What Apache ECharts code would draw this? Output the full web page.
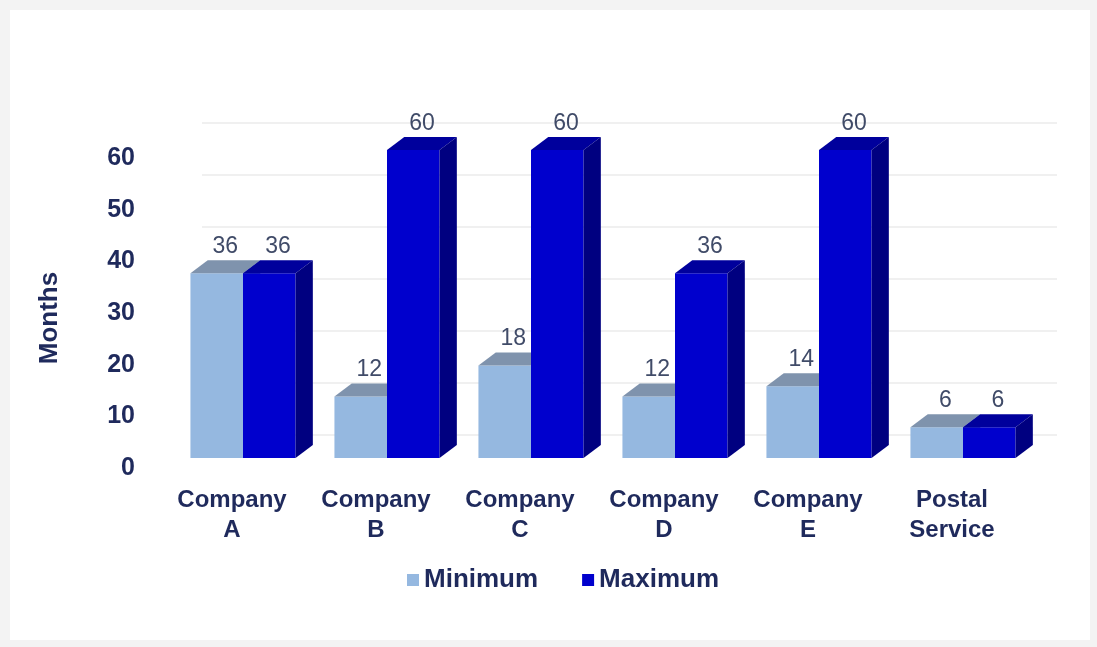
<!DOCTYPE html>
<html>
<head>
<meta charset="utf-8">
<script src="https://cdn.jsdelivr.net/npm/echarts@6/dist/echarts.min.js"></script>
<style>
  html, body { margin: 0; padding: 0; background: #f3f3f3; }
  #main { width: 1097px; height: 647px; }
</style>
</head>
<body>
<div id="main"></div>
<script>
// data
const categories = ['Company\nA', 'Company\nB', 'Company\nC', 'Company\nD', 'Company\nE', 'Postal\nService'];
const minimum = [36, 12, 18, 12, 14, 6];
const maximum = [36, 60, 60, 36, 60, 6];
const seriesNames = ['Minimum', 'Maximum'];
const yMin = 0, yMax = 60, yStep = 10;

const navy = '#1f2a5c';
const fontFam = '"Liberation Sans", Arial, sans-serif';
const faces = [
    { front: '#95b8e0', top: '#7f93ad', side: '#6f8cb5' },
    { front: '#0000cd', top: '#00009c', side: '#000080' }
];

// 3d-ish box: front, top and right side
function boxRenderer(side) {
    return function (params, api) {
        let idx = api.value(0), val = api.value(1);
        let top = api.coord([idx, val]);
        let base = api.coord([idx, 0]);
        let band = api.size([1, 0])[0];
        let w = band * 0.365;
        let x0 = side === 0 ? top[0] - w : top[0];
        let dx = band * 0.12, dy = -13;
        let c = faces[side];
        return {
            type: 'group',
            children: [
                { type: 'rect', shape: { x: x0, y: top[1], width: w, height: base[1] - top[1] }, style: { fill: c.front } },
                { type: 'polygon', shape: { points: [[x0, top[1]], [x0 + dx, top[1] + dy], [x0 + w + dx, top[1] + dy], [x0 + w, top[1]]] }, style: { fill: c.top } },
                { type: 'polygon', shape: { points: [[x0 + w, top[1]], [x0 + w + dx, top[1] + dy], [x0 + w + dx, base[1] + dy], [x0 + w, base[1]]] }, style: { fill: c.side } },
                {
                    type: 'text',
                    x: x0 + w / 2 + dx / 2,
                    y: top[1] + dy - 2,
                    style: { text: String(val), fill: '#404b68', font: '23px ' + fontFam, align: 'center', verticalAlign: 'bottom' }
                }
            ]
        };
    };
}

(function () {
    let myChart = echarts.init(document.getElementById('main'));
    let option = {
        animation: false,
        backgroundColor: '#f3f3f3',
        graphic: [
            { type: 'rect', left: 10, top: 10, shape: { width: 1080, height: 630 }, style: { fill: '#ffffff' }, z: -10 },
            {
                type: 'text', x: 50, y: 318, rotation: Math.PI / 2,
                style: { text: 'Months', fill: navy, font: 'bold 26px ' + fontFam, align: 'center', verticalAlign: 'middle' }
            }
        ],
        legend: {
            data: seriesNames,
            left: 402, top: 562,
            icon: 'rect', itemWidth: 12, itemHeight: 12, itemGap: 44,
            textStyle: { color: navy, fontSize: 26, fontWeight: 'bold', fontFamily: fontFam }
        },
        grid: [
            // bars (front plane)
            { left: 171, right: 62, top: 150, height: 308 },
            // back wall
            { left: 202, right: 40, top: 123, height: 312 },
            // axis labels
            { left: 160, right: 73, top: 158, height: 310 }
        ],
        xAxis: [
            { gridIndex: 0, type: 'category', data: categories, show: false },
            { gridIndex: 1, type: 'category', data: categories, show: false },
            {
                gridIndex: 2, type: 'category', data: categories,
                axisLine: { show: false }, axisTick: { show: false },
                axisLabel: { color: navy, fontSize: 24, fontWeight: 'bold', lineHeight: 30, margin: 17, fontFamily: fontFam }
            }
        ],
        yAxis: [
            { gridIndex: 0, type: 'value', min: yMin, max: yMax, interval: yStep, show: false },
            {
                gridIndex: 1, type: 'value', min: yMin, max: yMax, interval: yStep,
                axisLabel: { show: false }, axisLine: { show: false }, axisTick: { show: false },
                splitLine: { lineStyle: { color: '#f0f0f0', width: 2 } }
            },
            {
                gridIndex: 2, type: 'value', min: yMin, max: yMax, interval: yStep,
                axisLine: { show: false }, axisTick: { show: false }, splitLine: { show: false },
                axisLabel: { color: navy, fontSize: 25, fontWeight: 'bold', margin: 25, fontFamily: fontFam }
            }
        ],
        series: [
            {
                name: seriesNames[0], type: 'custom', xAxisIndex: 0, yAxisIndex: 0,
                itemStyle: { color: faces[0].front },
                renderItem: boxRenderer(0),
                encode: { x: 0, y: 1 },
                data: minimum.map((v, i) => [i, v])
            },
            {
                name: seriesNames[1], type: 'custom', xAxisIndex: 0, yAxisIndex: 0,
                itemStyle: { color: faces[1].front },
                renderItem: boxRenderer(1),
                encode: { x: 0, y: 1 },
                data: maximum.map((v, i) => [i, v])
            }
        ]
    };
    myChart.setOption(option);
    window.addEventListener('resize', function () {
        myChart.resize()
    })
})();
</script>
</body>
</html>
